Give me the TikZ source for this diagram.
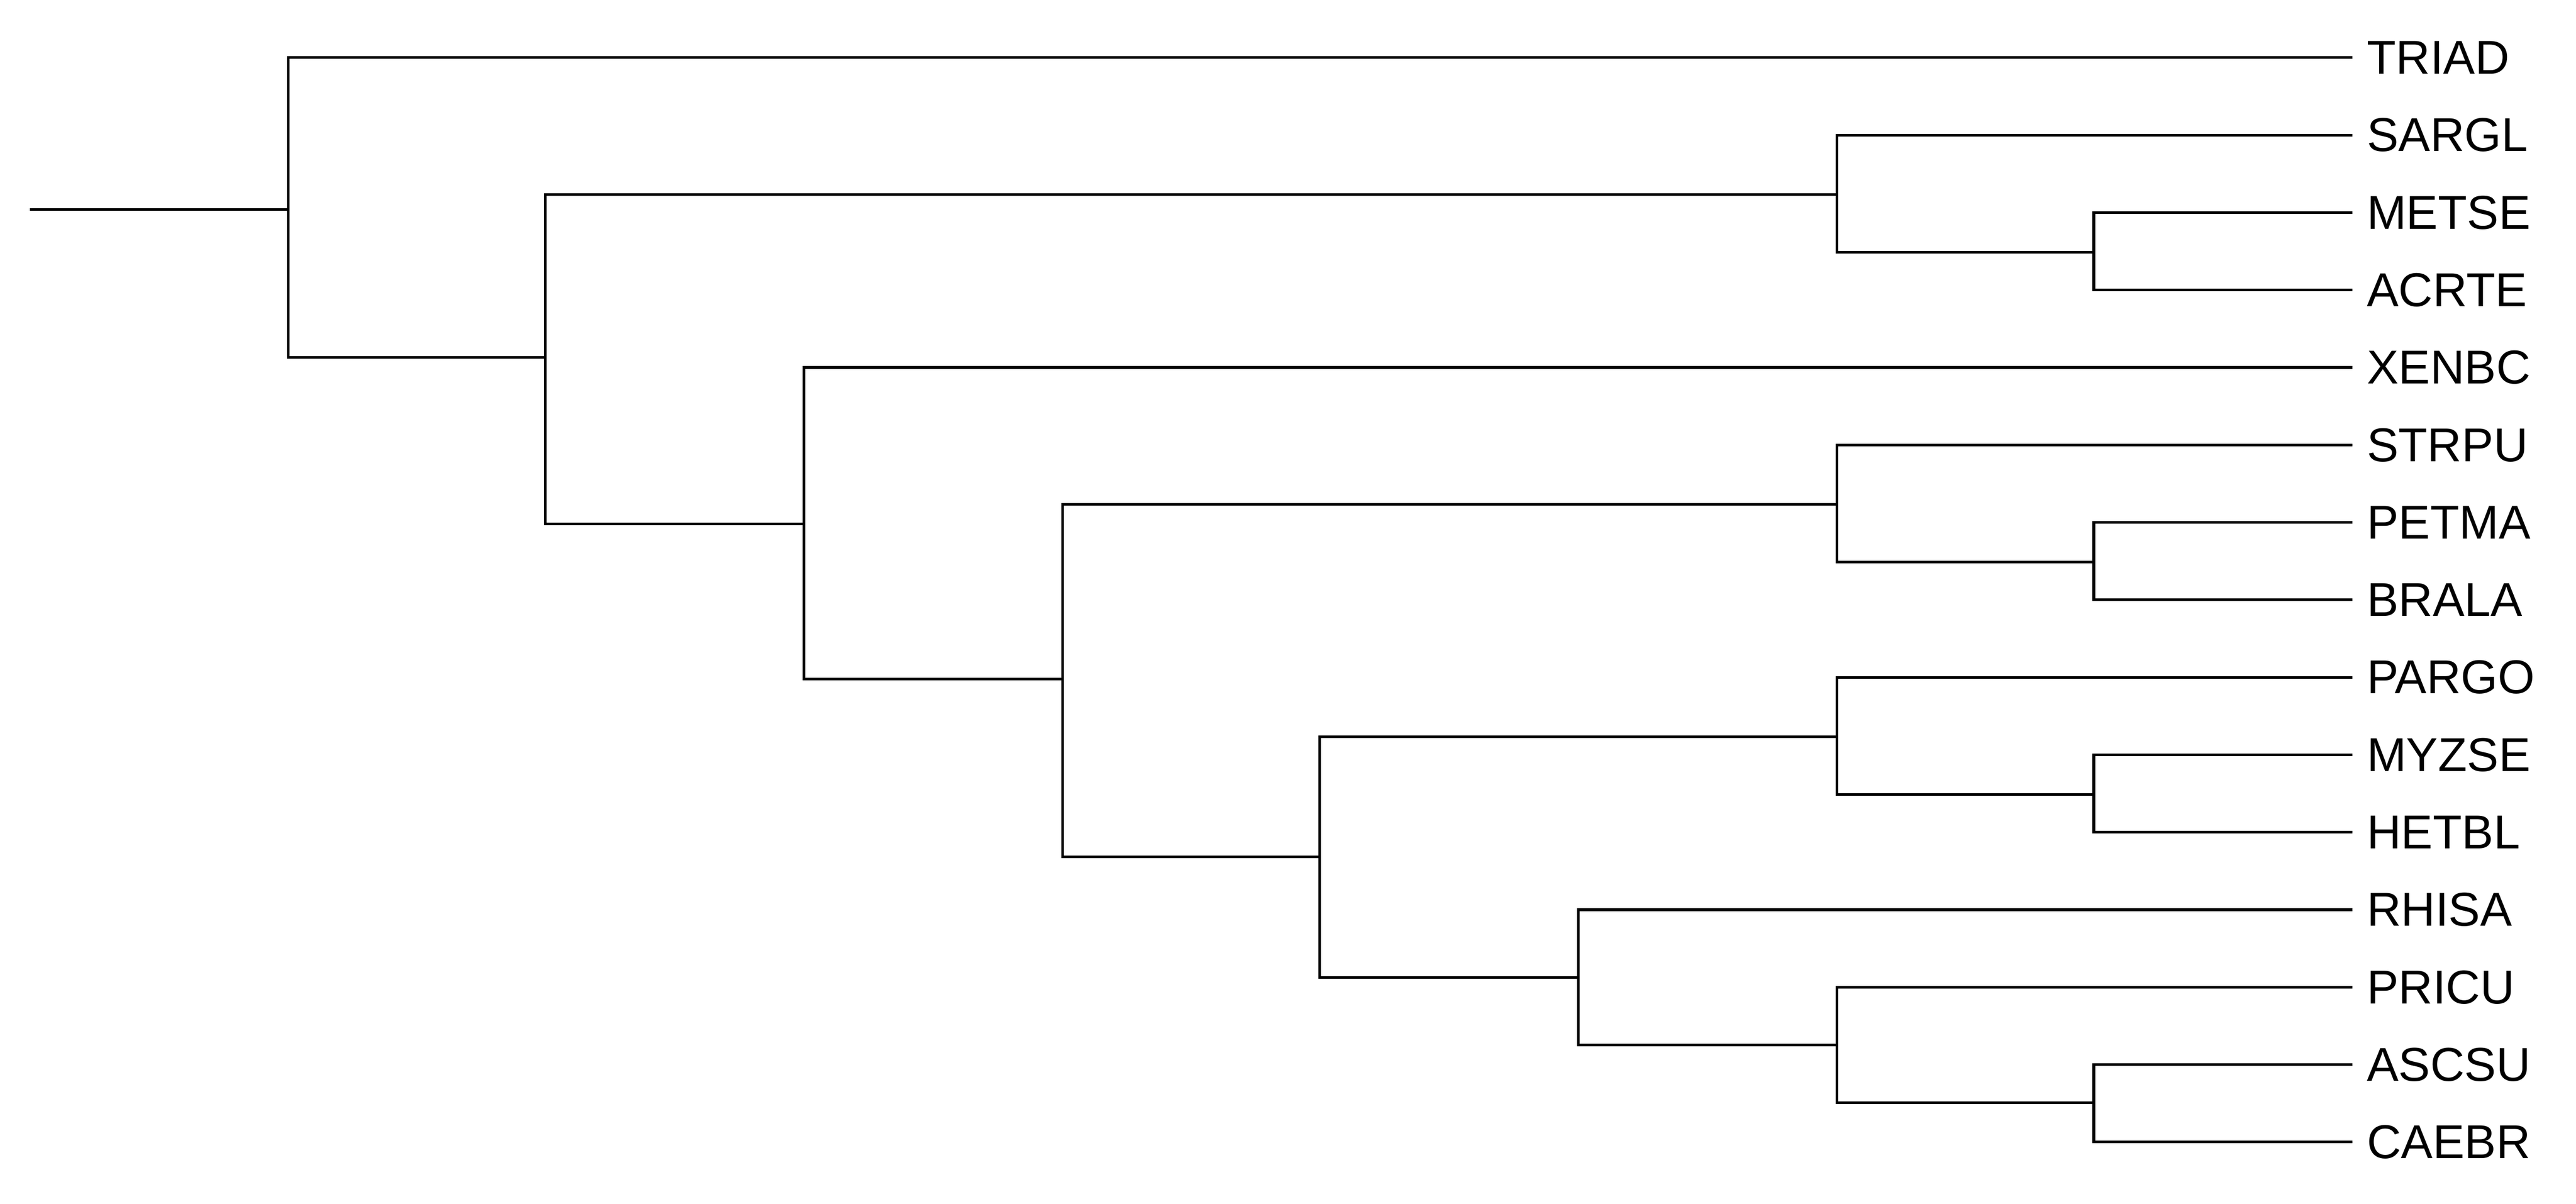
\documentclass[tikz,border=0pt]{standalone}
\usepackage{fontspec}
\setmainfont{Liberation Sans}
\begin{document}
\begin{tikzpicture}[x=0.01cm,y=-0.01cm,line width=0.45pt,
  lab/.style={anchor=west,inner sep=0pt,font=\fontsize{8.2pt}{9pt}\selectfont}]
\useasboundingbox (0,0) rectangle (1563.75,730.5);
\coordinate (start) at (18,127);
\coordinate (R) at (175,127);
\coordinate (A) at (331,217);
\coordinate (B) at (1115,118);
\coordinate (D) at (1271,153);
\coordinate (C) at (488,318);
\coordinate (E) at (645,412);
\coordinate (F) at (1115,306);
\coordinate (H) at (1271,341);
\coordinate (G) at (801,520);
\coordinate (I) at (1115,447);
\coordinate (K) at (1271,482);
\coordinate (J) at (958,593);
\coordinate (L) at (1115,634);
\coordinate (M) at (1271,669);
\foreach \n/\y in {TRIAD/35,SARGL/82,METSE/129,ACRTE/176,XENBC/223,STRPU/270,PETMA/317,BRALA/364,PARGO/411,MYZSE/458,HETBL/505,RHISA/552,PRICU/599,ASCSU/646,CAEBR/693}{
  \coordinate (t\n) at (1428,\y);
  \node[lab] (l\n) at (1436,\y) {\n};
}
\draw (start) -- (R);
\draw (R) |- (tTRIAD); \draw (R) |- (A);
\draw (A) |- (B); \draw (A) |- (C);
\draw (B) |- (tSARGL); \draw (B) |- (D);
\draw (D) |- (tMETSE); \draw (D) |- (tACRTE);
\draw (C) |- (tXENBC); \draw (C) |- (E);
\draw (E) |- (F); \draw (E) |- (G);
\draw (F) |- (tSTRPU); \draw (F) |- (H);
\draw (H) |- (tPETMA); \draw (H) |- (tBRALA);
\draw (G) |- (I); \draw (G) |- (J);
\draw (I) |- (tPARGO); \draw (I) |- (K);
\draw (K) |- (tMYZSE); \draw (K) |- (tHETBL);
\draw (J) |- (tRHISA); \draw (J) |- (L);
\draw (L) |- (tPRICU); \draw (L) |- (M);
\draw (M) |- (tASCSU); \draw (M) |- (tCAEBR);
\end{tikzpicture}
\end{document}
